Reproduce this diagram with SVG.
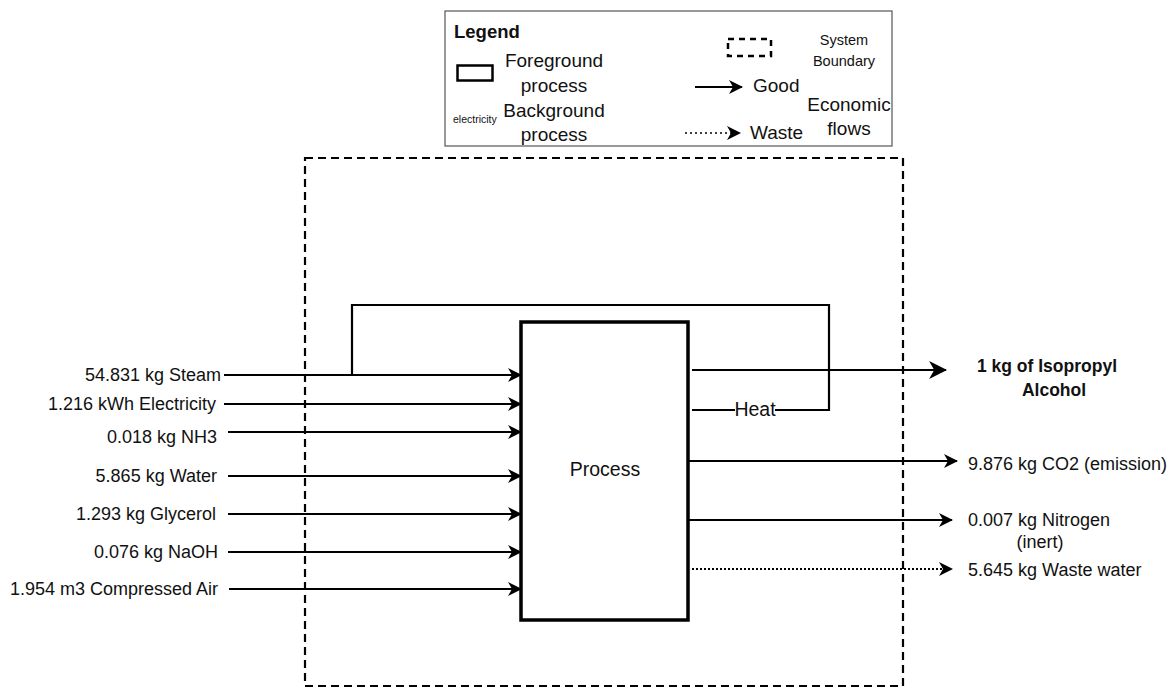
<svg xmlns="http://www.w3.org/2000/svg" width="1173" height="688" viewBox="0 0 1173 688">
<style>
text{font-family:"Liberation Sans",Arial,sans-serif;fill:#111}
.lbl{font-size:18px}
.leg{font-size:19px}
.in{font-size:18px;text-anchor:end}
.flow{stroke:#000;stroke-width:2.2;fill:none}
.dot{stroke:#000;stroke-width:2.2;fill:none;stroke-dasharray:2 2}
</style>
<defs>
<marker id="arr" viewBox="0 0 14 14" refX="13" refY="7" markerWidth="14" markerHeight="14" markerUnits="userSpaceOnUse" orient="auto">
<path d="M0,0 L14,7 L0,14 L4,7 Z" fill="#000"/>
</marker>
<marker id="arrL" viewBox="0 0 16 16" refX="15" refY="8" markerWidth="18" markerHeight="18" markerUnits="userSpaceOnUse" orient="auto">
<path d="M0,0 L16,8 L0,16 L4.5,8 Z" fill="#000"/>
</marker>
</defs>
<rect width="1173" height="688" fill="#fff"/>

<g id="legend">
<rect x="445" y="11" width="447" height="135" fill="#fff" stroke="#555" stroke-width="1.2"/>
<text x="454" y="38" font-size="18.5" font-weight="bold">Legend</text>
<rect x="457.5" y="65.5" width="35" height="15" fill="none" stroke="#000" stroke-width="2.5"/>
<text x="554" y="67" class="leg" text-anchor="middle">Foreground</text>
<text x="554" y="92" class="leg" text-anchor="middle">process</text>
<text x="453" y="123" font-size="10.5">electricity</text>
<text x="554" y="117" class="leg" text-anchor="middle">Background</text>
<text x="554" y="141" class="leg" text-anchor="middle">process</text>
<rect x="728" y="39" width="43" height="17" fill="none" stroke="#000" stroke-width="2.5" stroke-dasharray="6 5"/>
<text x="844" y="45" font-size="14.5" text-anchor="middle">System</text>
<text x="844" y="66" font-size="14.5" text-anchor="middle">Boundary</text>
<line x1="695" y1="87" x2="742" y2="87" class="flow" stroke-width="1.8" marker-end="url(#arr)"/>
<text x="753" y="92" class="leg">Good</text>
<text x="849" y="111" class="leg" text-anchor="middle">Economic</text>
<text x="849" y="135" class="leg" text-anchor="middle">flows</text>
<line x1="685" y1="133" x2="740" y2="133" stroke="#000" stroke-width="1.5" stroke-dasharray="2 3" marker-end="url(#arr)"/>
<text x="750" y="139" class="leg">Waste</text>
</g>

<g id="boundary">
<rect x="305" y="158" width="598" height="528" fill="none" stroke="#000" stroke-width="2.2" stroke-dasharray="8 5"/>
</g>

<g id="connectors">
<polyline points="352,375 352,305 829,305 829,410 692,410" class="flow"/>
<line x1="224" y1="375" x2="521" y2="375" class="flow" marker-end="url(#arr)"/>
<line x1="224" y1="404" x2="521" y2="404" class="flow" marker-end="url(#arr)"/>
<line x1="228" y1="432" x2="521" y2="432" class="flow" marker-end="url(#arr)"/>
<line x1="228" y1="476" x2="521" y2="476" class="flow" marker-end="url(#arr)"/>
<line x1="228" y1="514" x2="521" y2="514" class="flow" marker-end="url(#arr)"/>
<line x1="228" y1="552" x2="521" y2="552" class="flow" marker-end="url(#arr)"/>
<line x1="229" y1="589" x2="521" y2="589" class="flow" marker-end="url(#arr)"/>
<line x1="692" y1="370" x2="946" y2="370" class="flow" marker-end="url(#arrL)"/>
<line x1="688" y1="461" x2="957" y2="461" class="flow" marker-end="url(#arr)"/>
<line x1="688" y1="520" x2="952" y2="520" class="flow" marker-end="url(#arr)"/>
<line x1="692" y1="569" x2="952" y2="569" class="dot" marker-end="url(#arr)"/>
<rect x="735" y="400" width="40" height="20" fill="#fff"/>
<text x="755" y="416" font-size="19.5" text-anchor="middle">Heat</text>
</g>

<g id="process">
<rect x="521" y="322" width="167" height="298" fill="#fff" stroke="#000" stroke-width="3.5"/>
<text x="605" y="476" font-size="19.5" text-anchor="middle">Process</text>
</g>

<g id="inputs">
<text x="221" y="381" class="in">54.831 kg Steam</text>
<text x="216" y="410" class="in">1.216 kWh Electricity</text>
<text x="217" y="443" class="in">0.018 kg NH3</text>
<text x="217" y="482" class="in">5.865 kg Water</text>
<text x="216" y="520" class="in">1.293 kg Glycerol</text>
<text x="218" y="558" class="in">0.076 kg NaOH</text>
<text x="218" y="595" class="in">1.954 m3 Compressed Air</text>
</g>

<g id="outputs">
<text x="1047" y="372" font-size="17.5" font-weight="bold" text-anchor="middle">1 kg of Isopropyl</text>
<text x="1054" y="396" font-size="17.5" font-weight="bold" text-anchor="middle">Alcohol</text>
<text x="968" y="470" class="lbl">9.876 kg CO2 (emission)</text>
<text x="968" y="526" class="lbl">0.007 kg Nitrogen</text>
<text x="1040" y="548" class="lbl" text-anchor="middle">(inert)</text>
<text x="968" y="576" class="lbl">5.645 kg Waste water</text>
</g>
</svg>
